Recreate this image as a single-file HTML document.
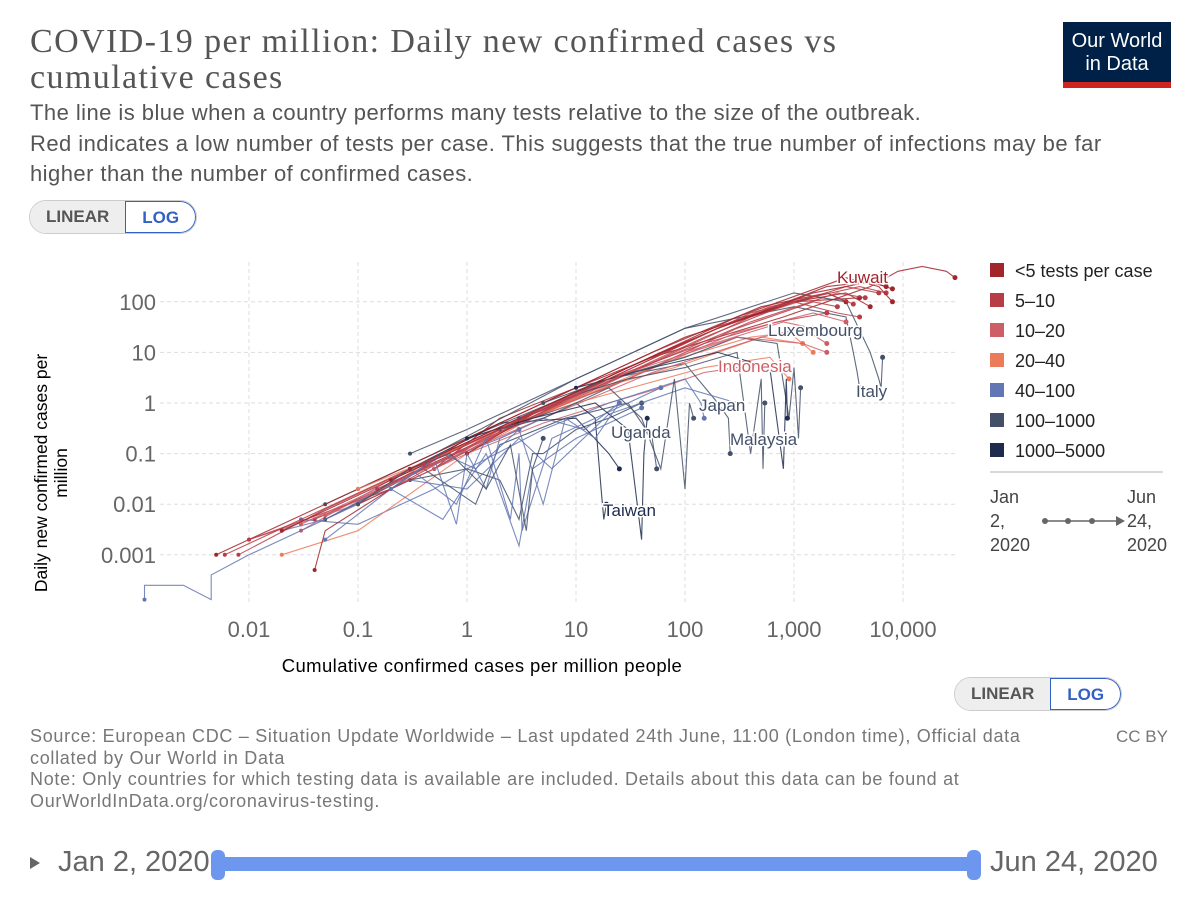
<!DOCTYPE html>
<html><head><meta charset="utf-8">
<style>
body{margin:0;width:1200px;height:904px;background:#fff;font-family:"Liberation Sans",sans-serif;position:relative;overflow:hidden}
.abs{position:absolute}
.title{left:30px;top:24px;font-family:"Liberation Serif",serif;font-size:34px;letter-spacing:1.4px;color:#555;line-height:36px}
.sub{left:30px;top:98px;font-size:22px;letter-spacing:0.45px;color:#555;line-height:30.5px}
.toggle{display:flex;border:1px solid #ccc;border-radius:18px;overflow:hidden;height:32px;font-size:17px;font-weight:bold}
.toggle div{padding:0 16px;line-height:32px}
.src{left:30px;top:726px;font-size:18px;letter-spacing:0.7px;color:#777;line-height:21.5px}
</style></head><body>
<div class="abs title">COVID-19 per million: Daily new confirmed cases vs<br>cumulative cases</div>
<div class="abs" style="left:1063px;top:22px;width:108px;height:66px;background:#002147;color:#fff;text-align:center;font-size:20px;line-height:23px;box-sizing:border-box;padding-top:8px;border-bottom:6px solid #ce261e">Our World<br>in Data</div>
<div class="abs sub">The line is blue when a country performs many tests relative to the size of the outbreak.<br>Red indicates a low number of tests per case. This suggests that the true number of infections may be far<br>higher than the number of confirmed cases.</div>
<div class="abs toggle" style="left:29px;top:200px">
 <div style="background:#eee;color:#555">LINEAR</div>
 <div style="color:#3360c4;border:1px solid #3360c4;border-radius:0 18px 18px 0">LOG</div>
</div>
<div class="abs toggle" style="left:954px;top:677px">
 <div style="background:#eee;color:#555">LINEAR</div>
 <div style="color:#3360c4;border:1px solid #3360c4;border-radius:0 18px 18px 0">LOG</div>
</div>
<div class="abs src">Source: European CDC – Situation Update Worldwide – Last updated 24th June, 11:00 (London time), Official data<br>collated by Our World in Data<br>Note: Only countries for which testing data is available are included. Details about this data can be found at<br>OurWorldInData.org/coronavirus-testing.</div>
<div class="abs" style="left:1116px;top:727px;font-size:17px;color:#777">CC BY</div>
<div class="abs" style="left:30px;top:857px;width:0;height:0;border-left:10px solid #666;border-top:6px solid transparent;border-bottom:6px solid transparent"></div>
<div class="abs" style="left:58px;top:846px;font-size:29px;color:#666">Jan 2, 2020</div>
<div class="abs" style="left:990px;top:846px;font-size:29px;color:#666">Jun 24, 2020</div>
<div class="abs" style="left:218px;top:857px;width:757px;height:14px;background:#6d97ee;border-radius:7px"></div>
<div class="abs" style="left:211px;top:850px;width:14px;height:30px;background:#6d97ee;border-radius:6px"></div>
<div class="abs" style="left:967px;top:850px;width:14px;height:30px;background:#6d97ee;border-radius:6px"></div>
<svg class="abs" style="left:0;top:0" width="1200" height="904" id="chart"></svg>
<script>
const xTicks=[0.01,0.1,1,10,100,1000,10000];
const xTickLabels=["0.01","0.1","1","10","100","1,000","10,000"];
const yTicks=[100,10,1,0.1,0.01,0.001];
const yTickLabels=["100","10","1","0.1","0.01","0.001"];
const legendLabels=["<5 tests per case","5–10","10–20","20–40","40–100","100–1000","1000–5000"];
const legendColors=["#a2252b","#b83c45","#cd5e68","#ec7b5a","#6276b3","#435068","#1e2b4f"];
const seriesCats=[0,2,5,5,4,5,5,6,0,1,2,3,3,4,4,5,6,0,1,4,0,1,
 0,1,1,2,2,3,0,1,4,4,5,5,5,6,6,4,5,2,0,1];
const seriesCum=[
[0.5,2,10,50,200,800,2000,5000,9000,15000,25000,30000],
[0.01,0.1,1,5,20,60,150,300,400],
[0.3,1,10,100,1000,3000,5000,6000,6300,6500],
[0.05,0.5,10,100,1000,3000,3500,3800,4000],
[0.03,0.1,0.5,1,5,20,100,140,150],
[0.1,1,20,100,200,250,260],
[0.3,1,2,3,4,5,10,20,40],
[0.5,2,10,15,17,18,19],
[0.005,0.05,0.5,5,50,500,2000,3000],
[0.01,0.2,2,30,300,1500,2500],
[0.03,0.3,3,20,100,800,1500],
[0.02,0.1,1,10,80,500,1200],
[0.1,1,10,150,600,900],
[0.02,0.05,0.3,1,3,6,20,100,300],
[0.05,0.2,0.6,1.5,3,4,10,40],
[0.05,0.4,1.2,2,8,30,50,55],
[0.3,2,10,20,25],
[0.04,0.05,0.2,1,10,100,1000,4000],
[0.008,0.05,0.5,4,40,400,3000,6000],
[0.0011,0.0011,0.0025,0.0045,0.0045,0.01,0.05,0.3,2,3],
[0.2,1,5,30,200,1000,3000,5000],
[0.1,0.5,3,20,150,700,2000],
[0.02,0.2,2,20,200,2000,5000,7000],
[0.006,0.06,0.6,6,60,600,4000,7000],
[0.04,0.4,4,40,400,2500,4500],
[0.03,0.3,3,30,300,1500,3000],
[0.05,0.5,5,50,500,1200,2000],
[0.1,1,8,60,400,900,1500],
[1,5,30,200,1500,5000,8000],
[0.15,1.5,15,150,1000,2500,4000],
[0.3,0.8,1.5,2.5,3,3.2,6,15,30,60],
[0.2,0.5,0.8,1,1.5,2,5,12,25],
[2,5,10,20,40,60,80,100,110,120],
[3,10,30,100,300,400,500,520,540],
[5,20,100,300,700,900,1000,1100,1150],
[10,50,200,600,800,850,870],
[1,4,15,30,40,42,45],
[0.2,0.6,1.2,3,5,8,15,25],
[0.1,0.3,0.7,1.5,2.5,3.5,4,5],
[0.5,3,30,300,1200,2000],
[0.3,3,30,300,3000,6000,8000],
[0.4,4,40,400,2000,3500]
];
const seriesDaily=[
[0.05,0.5,2,8,20,50,100,200,400,500,400,300],
[0.002,0.01,0.1,0.4,1,2,4,5,6],
[0.1,0.3,3,30,150,100,10,3,2,8],
[0.01,0.1,3,30,80,50,10,4,2],
[0.005,0.004,0.02,0.05,0.3,1,3,1,0.5],
[0.02,0.2,3,6,1,0.5,0.1],
[0.03,0.05,0.03,0.005,0.1,0.1,0.3,0.5,1],
[0.05,0.3,1,0.5,0.02,0.005,0.01],
[0.001,0.01,0.1,1,10,80,150,100],
[0.002,0.02,0.3,3,30,100,80],
[0.003,0.05,0.5,2,10,40,30],
[0.001,0.003,0.1,1.5,5,20,15],
[0.01,0.2,1,5,8,3],
[0.003,0.005,0.03,0.02,0.2,0.05,0.6,2,1],
[0.002,0.02,0.005,0.1,0.0015,0.05,0.2,0.8],
[0.005,0.05,0.01,0.15,0.5,1,0.2,0.05],
[0.05,0.4,0.5,0.1,0.05],
[0.0005,0.003,0.02,0.2,2,20,100,120],
[0.001,0.008,0.08,0.6,5,50,200,150],
[0.00013,0.00025,0.00025,0.00013,0.0004,0.001,0.005,0.04,0.2,0.3],
[0.03,0.15,0.8,5,30,100,150,80],
[0.01,0.05,0.4,3,15,40,60],
[0.003,0.03,0.3,3,30,200,250,200],
[0.001,0.01,0.1,1,10,80,200,150],
[0.005,0.05,0.5,5,40,150,120],
[0.004,0.04,0.4,3,25,60,40],
[0.006,0.06,0.5,4,20,30,15],
[0.02,0.15,1,6,20,25,10],
[0.1,0.8,5,30,150,250,180],
[0.02,0.2,2,20,100,60,50],
[0.05,0.01,0.2,0.005,0.1,0.003,0.2,0.5,1,2],
[0.02,0.08,0.004,0.1,0.02,0.2,0.5,0.3,1],
[0.3,0.5,1,2,0.5,0.05,3,0.02,1,0.5],
[0.5,1.5,3,5,10,0.1,3,0.05,1],
[1,3,8,20,15,0.5,5,0.2,2],
[2,5,10,5,0.05,3,0.5],
[0.2,0.5,1,0.3,0.002,0.1,0.5],
[0.02,0.1,0.05,0.3,0.01,0.5,0.2,1],
[0.01,0.05,0.1,0.02,0.15,0.003,0.05,0.2],
[0.05,0.5,4,20,15,10],
[0.05,0.5,5,50,300,200,100],
[0.06,0.6,6,60,150,90]
];
const labels=[["Kuwait",0,837,277],["Indonesia",2,718,366],["Luxembourg",5,768,330],["Italy",5,856,391],["Japan",5,699,405],["Malaysia",5,730,439],["Uganda",5,611,432],["Taiwan",6,603,510]];
const NS="http://www.w3.org/2000/svg";
const svg=document.getElementById('chart');
const X=v=>467+109*Math.log10(v);
const Y=v=>403-50.6*Math.log10(v);
function mk(t,a,p){const e=document.createElementNS(NS,t);for(const k in a)e.setAttribute(k,a[k]);(p||svg).appendChild(e);return e;}
xTicks.forEach((v,i)=>{
 const l=mk('line',{x1:X(v),x2:X(v),y1:262,y2:605,stroke:'#ddd','stroke-dasharray':'4,3'});
 
 
 const t=mk('text',{x:X(v),y:637,'text-anchor':'middle','font-size':22,fill:'#666'});
 t.textContent=xTickLabels[i];
 
 
});
yTicks.forEach((v,i)=>{
 const l=mk('line',{x1:160,x2:955,y1:Y(v),y2:Y(v),stroke:'#ddd','stroke-dasharray':'4,3'});
 
 
 const t=mk('text',{x:156,y:Y(v)+8,'text-anchor':'end','font-size':22,fill:'#666'});
 t.textContent=yTickLabels[i];
 
 
});
const xt=mk('text',{x:482,y:672,'text-anchor':'middle','font-size':18.5,'letter-spacing':0.4,fill:'#000'});
xt.textContent="Cumulative confirmed cases per million people";


const yt=mk('text',{transform:'translate(47,473) rotate(-90)','text-anchor':'middle','font-size':17.5,fill:'#000'});
const ys1=mk('tspan',{x:0,y:0},yt);ys1.textContent="Daily new confirmed cases per";
const ys2=mk('tspan',{x:0,y:20},yt);ys2.textContent="million";


seriesCum.forEach((cx,s)=>{
 const c=legendColors[seriesCats[s]];
 const n=Math.min(cx.length,seriesDaily[s].length)-1;
 const pts=cx.slice(0,n+1).map((v,i)=>X(v).toFixed(1)+','+Y(seriesDaily[s][i]).toFixed(1)).join(' ');
 const p=mk('polyline',{points:pts,fill:'none',stroke:c,'stroke-width':1.1,opacity:0.85});
 
 
 const d=mk('circle',{cx:X(cx[0]),cy:Y(seriesDaily[s][0]),r:2,fill:c});
 
 
 const e=mk('circle',{cx:X(cx[n]),cy:Y(seriesDaily[s][n]),r:2.5,fill:c});
 
 
});
labels.forEach(l=>{
 const t=mk('text',{x:l[2],y:l[3]+6,'font-size':17,fill:legendColors[l[1]],stroke:'#fff','stroke-width':3,'paint-order':'stroke'});
 t.textContent=l[0];
 
 
});
legendLabels.forEach((lab,i)=>{
 const y=270+i*30;
 const r=mk('rect',{x:990,y:y-7,width:14,height:14,fill:legendColors[i]});
 
 
 const t=mk('text',{x:1015,y:y+7,'font-size':18,fill:'#222'});
 t.textContent=lab;
 
 
});
const sep=mk('line',{x1:990,x2:1163,y1:472,y2:472,stroke:'#ccc','stroke-width':1.5});


[["Jan",990,503],["2,",990,527],["2020",990,551]].forEach(a=>{const t=mk('text',{x:a[1],y:a[2],'font-size':18,fill:'#444'});t.textContent=a[0];});
[["Jun",1127,503],["24,",1127,527],["2020",1127,551]].forEach(a=>{const t=mk('text',{x:a[1],y:a[2],'font-size':18,fill:'#444'});t.textContent=a[0];});
const al=mk('line',{x1:1045,x2:1118,y1:521,y2:521,stroke:'#666','stroke-width':1.5});


[1045,1068,1092].forEach(x=>{const c=mk('circle',{cx:x,cy:521,r:3,fill:'#666'});});
const ah=mk('polygon',{points:'1116,516 1125,521 1116,526',fill:'#666'});


</script>
</body></html>
